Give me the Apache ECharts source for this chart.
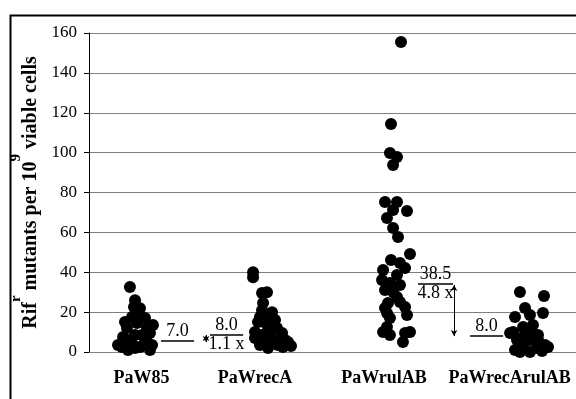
<!DOCTYPE html>
<html>
<head>
<meta charset="utf-8">
<script src="https://cdn.jsdelivr.net/npm/echarts@6/dist/echarts.min.js"></script>
<style>
html, body { margin: 0; padding: 0; background: #fff; }
#main { width: 576px; height: 399px; }
</style>
</head>
<body>
<div id="main"></div>
<script>
window.addEventListener('load', () => {
    main()
})

const SERIF = "'Liberation Serif', 'Times New Roman', serif"

// strain names and where their labels sit on the x axis (category units)
const strains = ['PaW85', 'PaWrecA', 'PaWrulAB', 'PaWrecArulAB']
const strainLabelPos = [1.027, 1.9, 2.892, 3.858]

// jittered points: x position (category units) and mutants per 10^9 cells
const paw85X = [0.938, 0.977, 0.969, 1.015, 1.0, 0.954, 0.9, 0.992, 1.054, 1.115, 0.915, 1.069, 1.092, 1.031,
    0.977, 0.885, 0.938, 1.069, 1.108, 0.877, 1.015, 0.962, 0.923, 1.092, 0.846, 1.054, 0.977, 0.9]
const paw85Y = [32.6, 26, 22.6, 22, 19.6, 17.6, 15, 14.5, 17, 13.5, 12, 12, 9.5, 8.5,
    8.5, 7.5, 6, 5, 3.5, 2.5, 2.5, 3.5, 1, 1, 3.5, 6, 2, 5]

const recAX = [1.885, 1.885, 1.992, 1.954, 1.962, 1.954, 2.031, 1.938, 2.0, 2.054, 1.923, 1.992, 2.069, 1.9,
    2.108, 1.954, 2.015, 1.9, 2.131, 1.977, 2.054, 2.154, 1.938, 2.0, 2.115, 2.077, 1.992, 2.177]
const recAY = [40, 37.5, 30, 29.6, 24.6, 21, 20, 17.5, 17, 16, 15, 13.5, 12, 10,
    9.5, 8.5, 9.5, 7, 6, 5, 6, 5, 3.5, 2, 2.5, 3.5, 3.5, 3]

const rulABX = [3.023, 2.946, 2.938, 2.992, 2.962, 2.9, 2.992, 3.069, 2.962, 2.915, 2.962, 3.0, 3.092, 2.946,
    3.015, 3.054, 2.885, 2.992, 2.877, 2.938, 3.015, 2.962, 2.9, 2.992, 3.015, 2.923, 2.9, 3.054,
    3.069, 2.915, 2.938, 2.885, 2.938, 3.054, 3.092, 3.038, 2.915]
const rulABY = [155.5, 114.3, 99.8, 97.8, 93.8, 75.2, 75.2, 70.7, 71.2, 67.2, 62.2, 57.7, 49.1, 46.1,
    44.6, 42.1, 41.1, 38.6, 36.1, 34.6, 33.6, 30.1, 31.1, 27.6, 25.1, 24.6, 22.1, 22.6,
    18.6, 19.6, 17.1, 10, 8.5, 9.5, 10, 5, 12.5]

const recArulABX = [3.938, 4.123, 3.977, 4.115, 3.9, 4.015, 4.038, 3.962, 3.885, 4.077, 3.962, 3.915, 4.015,
    4.131, 3.962, 3.9, 4.069, 4.154, 4.015, 3.938, 4.108, 3.862, 4.0, 4.077]
const recArulABY = [30.1, 28.1, 22.1, 19.6, 17.6, 18.6, 13.5, 12.5, 10, 8.5, 7.5, 6, 6,
    3.5, 2.5, 1, 2, 2.5, 0, 0, 0.5, 9.5, 10, 6]

// median annotations: text, bar ends (category units) and bar level
const medianText = ['7.0', '8.0', '38.5', '8.0']
const foldText = ['', '1.1 x', '4.8 x', '']
const medianStart = [1.177, 1.554, 3.154, 3.554]
const medianEnd = [1.431, 1.808, 3.423, 3.808]
const medianLevel = [5.5, 8.5, 34, 8]

// fold-change arrows: x, from, to
const arrowX = [1.523, 3.431]
const arrowFrom = [8.5, 33.6]
const arrowTo = [5, 8]

function pairs(xs, ys) {
    return xs.map((x, i) => [x, ys[i]])
}

function textLabel(text, position) {
    return {
        show: text !== '',
        position,
        distance: position === 'top' ? 1 : 0,
        formatter: text,
        color: '#000',
        fontFamily: SERIF,
        fontSize: 18,
        textBorderWidth: 0,
        opacity: 1,
    }
}

function main() {
    const chart = echarts.init(document.getElementById('main'))

    const groups = [
        pairs(paw85X, paw85Y),
        pairs(recAX, recAY),
        pairs(rulABX, rulABY),
        pairs(recArulABX, recArulABY),
    ]

    const series = groups.map((data, i) => ({
        name: strains[i],
        type: 'scatter',
        data,
        symbolSize: 12,
        itemStyle: { color: '#000', opacity: 1 },
        z: 5,
    }))

    // median bars and their texts
    const bars = medianText.map((t, i) => [
        { coord: [medianStart[i], medianLevel[i]] },
        { coord: [medianEnd[i], medianLevel[i]] },
    ])
    const arrows = arrowX.map((x, i) => [
        { coord: [x, arrowFrom[i]] },
        { coord: [x, arrowTo[i]] },
    ])
    const topTexts = medianText.map((t, i) => ({
        value: [(medianStart[i] + medianEnd[i]) / 2, medianLevel[i]],
        label: textLabel(t, 'top'),
    }))
    const bottomTexts = foldText.map((t, i) => ({
        value: [(medianStart[i] + medianEnd[i]) / 2, medianLevel[i]],
        label: textLabel(t, 'bottom'),
    }))

    series.push({
        type: 'scatter',
        symbolSize: 0,
        itemStyle: { color: '#000', opacity: 1 },
        data: topTexts.concat(bottomTexts),
        silent: true,
        z: 6,
        markLine: {
            silent: true,
            symbol: 'none',
            label: { show: false },
            lineStyle: { color: '#000', width: 1.5, type: 'solid', opacity: 1 },
            data: bars,
        },
    })
    series.push({
        type: 'scatter',
        symbolSize: 0,
        data: [],
        markLine: {
            silent: true,
            symbol: ['arrow', 'arrow'],
            symbolSize: [5, 6],
            label: { show: false },
            lineStyle: { color: '#000', width: 1, type: 'solid', opacity: 1 },
            data: arrows,
        },
    })

    const option = {
        animation: false,
        grid: { left: 89, right: 0, top: 33, bottom: 47 },
        graphic: [{
            type: 'rect',
            left: 8, top: 13,
            shape: { width: 600, height: 420 },
            style: { fill: 'none', stroke: '#000', lineWidth: 2 },
            silent: true,
        }],
        xAxis: {
            type: 'value',
            min: 0.623,
            max: 4.369,
            splitLine: { show: false },
            axisLine: { show: true, lineStyle: { color: '#808080' } },
            axisTick: { show: false },
            axisLabel: {
                customValues: strainLabelPos,
                formatter: (v) => strains[strainLabelPos.indexOf(v)] || '',
                color: '#000',
                fontFamily: SERIF,
                fontWeight: 'bold',
                fontSize: 18,
                margin: 17,
            },
        },
        yAxis: {
            type: 'value',
            min: 0,
            max: 160,
            interval: 20,
            axisLine: { show: true, lineStyle: { color: '#000' } },
            axisTick: { show: true, length: 5, lineStyle: { color: '#000' } },
            splitLine: { lineStyle: { color: '#808080', width: 1 } },
            axisLabel: { color: '#000', fontFamily: SERIF, fontSize: 17, margin: 12 },
            name: '{b|Rif}{sup|r}{b| mutants per 10}{sup|9}{b| viable cells}',
            nameLocation: 'middle',
            nameGap: 30,
            nameTextStyle: {
                rich: {
                    b: { fontFamily: SERIF, fontWeight: 'bold', fontSize: 20, color: '#000', lineHeight: 44 },
                    sup: { fontFamily: SERIF, fontWeight: 'bold', fontSize: 15, color: '#000', lineHeight: 15, verticalAlign: 'top' },
                },
            },
        },
        series,
    }
    chart.setOption(option)
}
</script>
</body>
</html>
